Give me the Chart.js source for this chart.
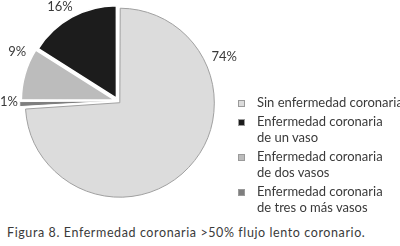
<!DOCTYPE html>
<html>
<head>
    <title>Figura 8</title>
    <style>
        body {
            background-color: #ffffff;
            margin: 0;
            padding: 0;
            font-family: Lato, sans-serif;
            color: #3a3a3a;
        }
        .wrap {
            position: relative;
            width: 400px;
            height: 246px;
            overflow: hidden;
        }
        .pie {
            position: absolute;
            left: 0;
            top: 0;
            width: 240px;
            height: 212px;
        }
        .legend {
            position: absolute;
            left: 237px;
            top: 94px;
            font-size: 13px;
            line-height: 16px;
            white-space: nowrap;
        }
        .legend div {
            position: relative;
            padding-left: 20px;
            white-space: pre;
            margin-bottom: 3px;
        }
        .legend span {
            position: absolute;
            left: 1px;
            top: 6px;
            width: 7px;
            height: 7px;
            box-sizing: border-box;
            border: 1px solid #9a9a9a;
        }
        .caption {
            position: absolute;
            left: 7px;
            top: 225px;
            font-size: 12.5px;
            letter-spacing: 0.6px;
            white-space: nowrap;
        }
    </style>
    <script src="https://cdn.jsdelivr.net/npm/chart.js@4.4.0/dist/chart.umd.min.js"></script>
</head>
<body>
    <div class="wrap">
        <canvas id="pieChart" class="pie" width="240" height="212"></canvas>
        <div class="legend" id="legend"></div>
        <div class="caption">Figura 8. Enfermedad coronaria &gt;50% flujo lento coronario.</div>
    </div>
    <script>
        // datos de la figura (orden de la leyenda)
        var categories = [
            "Sin enfermedad coronaria",
            "Enfermedad coronaria\nde un vaso",
            "Enfermedad coronaria\nde dos vasos",
            "Enfermedad coronaria\nde tres o más vasos"
        ];
        var values = [74, 16, 9, 1];
        var colors = ["#dcdcdc", "#1c1c1c", "#bcbcbc", "#7e7e7e"];

        // el sector grande va primero, los demas en sentido horario
        var drawOrder = [0, 3, 2, 1];
        // donde va cada rotulo: fraccion del arco y distancia fuera del borde
        var labelFrac = [0.253, 0.45, 0.8, 0.86];
        var labelGap = [23, 18.5, 20, 17];

        var legend = document.getElementById("legend");
        for (var i = 0; i < categories.length; i++) {
            var item = document.createElement("div");
            item.textContent = categories[i];
            var box = document.createElement("span");
            box.style.backgroundColor = colors[i];
            item.appendChild(box);
            legend.appendChild(item);
        }

        var pctLabels = {
            id: "pctLabels",
            afterDatasetsDraw: function(chart) {
                var ctx = chart.ctx;
                var arcs = chart.getDatasetMeta(0).data;
                ctx.save();
                ctx.font = "13px Lato, sans-serif";
                ctx.fillStyle = "#3a3a3a";
                ctx.textAlign = "center";
                ctx.textBaseline = "middle";
                arcs.forEach(function(arc, k) {
                    var idx = drawOrder[k];
                    var a = arc.startAngle + (arc.endAngle - arc.startAngle) * labelFrac[idx];
                    var r = arc.outerRadius + labelGap[idx];
                    ctx.fillText(values[idx] + "%", arc.x + Math.cos(a) * r, arc.y + Math.sin(a) * r);
                });
                ctx.restore();
            }
        };

        var ctx = document.getElementById("pieChart").getContext("2d");
        var myChart = new Chart(ctx, {
            type: "pie",
            data: {
                labels: drawOrder.map(function(i) { return categories[i]; }),
                datasets: [{
                    data: drawOrder.map(function(i) { return values[i]; }),
                    backgroundColor: drawOrder.map(function(i) { return colors[i]; }),
                    borderColor: ["#a0a0a0", "#ffffff", "#ffffff", "#ffffff"],
                    borderWidth: [1, 1, 1.5, 1.5],
                    // chart.js mueve cada sector offset/4 px hacia afuera
                    offset: [10, 13, 13, 13]
                }]
            },
            options: {
                responsive: false,
                animation: false,
                radius: 92,
                layout: { padding: { left: 0, right: 4, top: 0, bottom: 10 } },
                plugins: {
                    legend: { display: false },
                    tooltip: { enabled: false }
                }
            },
            plugins: [pctLabels]
        });
    </script>
</body>
</html>
